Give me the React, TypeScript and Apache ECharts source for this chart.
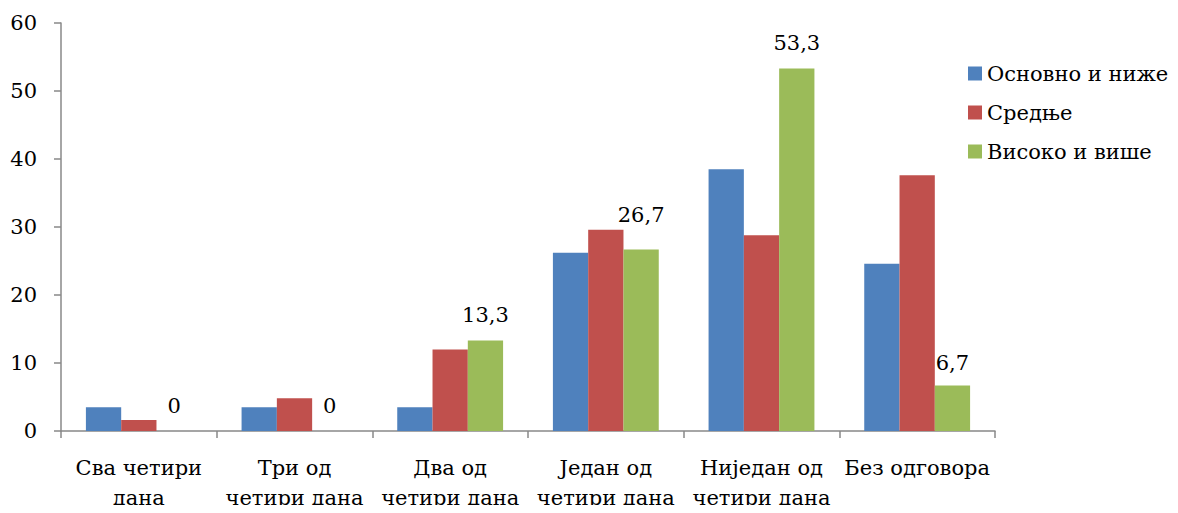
import React, { useEffect, useRef } from "react";
import * as echarts from "echarts";

const categories = [
  "Сва четири\nдана",
  "Три од\nчетири дана",
  "Два од\nчетири дана",
  "Један од\nчетири дана",
  "Ниједан од\nчетири дана",
  "Без одговора",
];
const seriesNames = ["Основно и ниже", "Средње", "Високо и више"];
const basicValues = [3.5, 3.5, 3.5, 26.2, 38.5, 24.6];
const middleValues = [1.6, 4.8, 12.0, 29.6, 28.8, 37.6];
const highValues = [0, 0, 13.3, 26.7, 53.3, 6.7];
const colors = ["#4F81BD", "#C0504D", "#9BBB59"];
const yTicks = { min: 0, max: 60, interval: 10 };

const FONT = "DejaVu Serif";

export default function App() {
  const ref = useRef<HTMLDivElement>(null);
  useEffect(() => {
    if (!ref.current) return;
    const chart = echarts.init(ref.current, undefined, { renderer: "svg" });
    const values = [basicValues, middleValues, highValues];
    // label distance tweaks (the reference lifts the "26,7" label above the neighbouring bar)
    const labelDistance = [15, 15, 15, 24, 15, 12];
    chart.setOption({
      animation: false,
      textStyle: { fontFamily: FONT },
      grid: { left: 61, right: 183, top: 23, bottom: 81, containLabel: false },
      legend: {
        orient: "vertical",
        left: 963,
        top: 58,
        itemWidth: 14,
        itemHeight: 14,
        itemGap: 18,
        icon: "rect",
        textStyle: { fontFamily: FONT, fontSize: 21, color: "#000" },
        data: seriesNames,
      },
      xAxis: {
        type: "category",
        data: categories,
        axisLine: { lineStyle: { color: "#888888", width: 1.5 } },
        axisTick: { show: true, length: 7, lineStyle: { color: "#888888", width: 1.5 } },
        axisLabel: {
          fontFamily: FONT,
          fontSize: 21,
          color: "#000",
          lineHeight: 30,
          margin: 22,
          interval: 0,
        },
      },
      yAxis: {
        type: "value",
        min: yTicks.min,
        max: yTicks.max,
        interval: yTicks.interval,
        splitLine: { show: false },
        axisLine: { show: true, lineStyle: { color: "#888888", width: 1.5 } },
        axisTick: { show: true, length: 7, lineStyle: { color: "#888888", width: 1.5 } },
        axisLabel: { fontFamily: FONT, fontSize: 21, color: "#000", margin: 24 },
      },
      series: seriesNames.map((name, i) => ({
        name,
        type: "bar",
        data:
          i === 2
            ? values[i].map((v, j) => ({ value: v, label: { distance: labelDistance[j] } }))
            : values[i],
        barGap: "0%",
        barCategoryGap: "32%",
        itemStyle: { color: colors[i] },
        label:
          i === 2
            ? {
                show: true,
                position: "top",
                distance: 15,
                fontFamily: FONT,
                fontSize: 21,
                color: "#000",
                formatter: (p: any) => String(p.value).replace(".", ","),
              }
            : { show: false },
      })),
    });
    return () => chart.dispose();
  }, []);
  return <div ref={ref} style={{ width: 1178, height: 513, margin: -8 }} />;
}
